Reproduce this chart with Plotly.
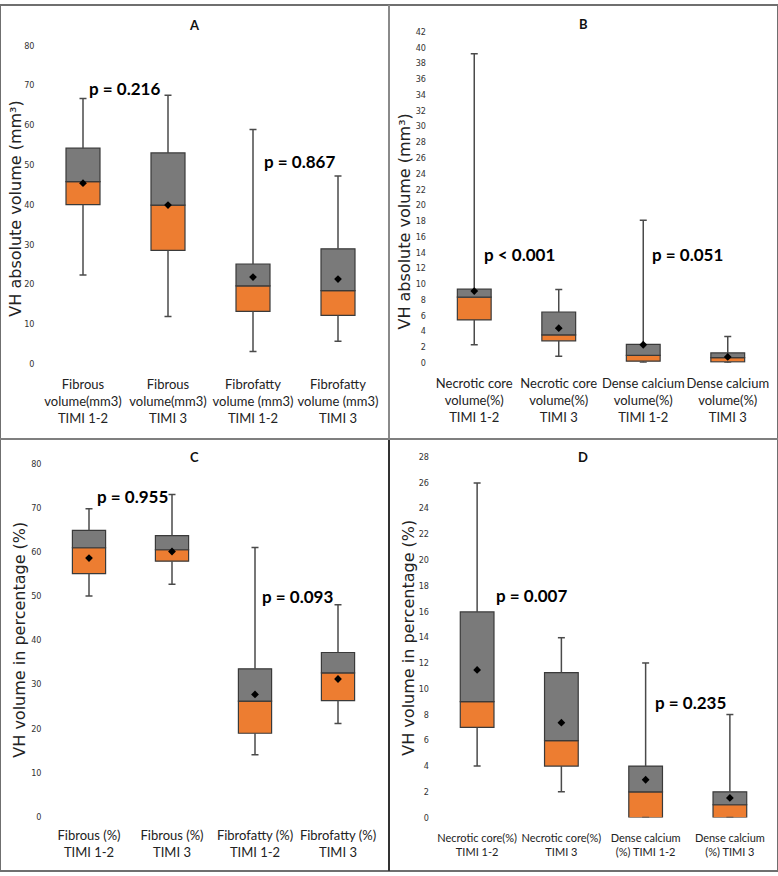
import plotly.graph_objects as go

W, H = 778, 876

# ---------------- data ----------------
# Panel A: VH absolute volume (mm3)
a_labels = ["Fibrous<br>volume(mm3)<br>TIMI 1-2", "Fibrous<br>volume(mm3)<br>TIMI 3",
            "Fibrofatty<br>volume (mm3)<br>TIMI 1-2", "Fibrofatty<br>volume (mm3)<br>TIMI 3"]
a_low = [22.3, 11.9, 3.1, 5.7]
a_q1 = [40.0, 28.5, 13.2, 12.2]
a_med = [45.8, 39.9, 19.6, 18.4]
a_q3 = [54.2, 53.0, 25.1, 28.9]
a_high = [66.7, 67.5, 58.9, 47.2]
a_mean = [45.4, 39.9, 21.8, 21.3]
a_p = ["p = 0.216", "p = 0.867"]

# Panel B: VH absolute volume (mm3)
b_labels = ["Necrotic core<br>volume(%)<br>TIMI 1-2", "Necrotic core<br>volume(%)<br>TIMI 3",
            "Dense calcium<br>volume(%)<br>TIMI 1-2", "Dense calcium<br>volume(%)<br>TIMI 3"]
b_low = [2.3, 0.84, 0.08, 0.0]
b_q1 = [5.44, 2.8, 0.21, 0.13]
b_med = [8.33, 3.56, 0.96, 0.67]
b_q3 = [9.34, 6.45, 2.35, 1.26]
b_high = [39.2, 9.3, 18.1, 3.35]
b_mean = [9.1, 4.4, 2.3, 0.75]
b_p = ["p < 0.001", "p = 0.051"]

# Panel C: VH volume in percentage (%)
c_labels = ["Fibrous (%)<br>TIMI 1-2", "Fibrous (%)<br>TIMI 3",
            "Fibrofatty (%)<br>TIMI 1-2", "Fibrofatty (%)<br>TIMI 3"]
c_low = [50.0, 52.7, 14.0, 21.1]
c_q1 = [55.1, 57.9, 18.9, 26.3]
c_med = [60.95, 60.5, 26.2, 32.6]
c_q3 = [64.9, 63.7, 33.5, 37.2]
c_high = [69.8, 73.0, 61.0, 48.0]
c_mean = [58.6, 60.1, 27.7, 31.2]
c_p = ["p = 0.955", "p = 0.093"]

# Panel D: VH volume in percentage (%)
d_labels = ["Necrotic core(%)<br>TIMI 1-2", "Necrotic core(%)<br>TIMI 3",
            "Dense calcium<br>(%) TIMI 1-2", "Dense calcium<br>(%) TIMI 3"]
d_low = [4.0, 2.0, 0.0, 0.0]
d_q1 = [7.0, 4.0, 0.0, 0.0]
d_med = [9.0, 5.98, 2.0, 1.0]
d_q3 = [15.96, 11.25, 4.0, 2.0]
d_high = [25.96, 13.96, 12.0, 8.0]
d_mean = [11.46, 7.37, 2.94, 1.53]
d_p = ["p = 0.007", "p = 0.235"]

ORANGE = "#ED7D31"
GRAY = "#7A7A7A"
EDGE = "#3A3A3A"
WHISK = "#4A4A4A"
LABELFONT = "Lato, Roboto, sans-serif"
TICKFONT = "Liberation Sans Narrow, DejaVu Sans Condensed, Roboto, sans-serif"

fig = go.Figure()


def add_panel(n, labels, low, q1, med, q3, high, mean):
    xa = "x" if n == 1 else f"x{n}"
    ya = "y" if n == 1 else f"y{n}"
    xs = list(range(len(labels)))
    # whiskers (outside of the box)
    wx, wy = [], []
    for i in xs:
        wx += [i, i, None, i, i, None]
        wy += [low[i], q1[i], None, q3[i], high[i], None]
    fig.add_trace(go.Scatter(x=wx, y=wy, mode="lines", line=dict(color=WHISK, width=1.5),
                             xaxis=xa, yaxis=ya, hoverinfo="skip", showlegend=False))
    # caps
    fig.add_trace(go.Scatter(x=xs + xs, y=low + high, mode="markers",
                             marker=dict(symbol="line-ew", size=5, line=dict(color=WHISK, width=1.5)),
                             xaxis=xa, yaxis=ya, hoverinfo="skip", showlegend=False))
    # box lower (Q1 -> median)
    fig.add_trace(go.Bar(x=xs, y=[m - q for m, q in zip(med, q1)], base=q1, width=0.4,
                         marker=dict(color=ORANGE, line=dict(color=EDGE, width=1.2)),
                         xaxis=xa, yaxis=ya, showlegend=False))
    # box upper (median -> Q3)
    fig.add_trace(go.Bar(x=xs, y=[t - m for t, m in zip(q3, med)], base=med, width=0.4,
                         marker=dict(color=GRAY, line=dict(color=EDGE, width=1.2)),
                         xaxis=xa, yaxis=ya, showlegend=False))
    # mean
    fig.add_trace(go.Scatter(x=xs, y=mean, mode="markers",
                             marker=dict(symbol="diamond", size=6, color="black"),
                             xaxis=xa, yaxis=ya, showlegend=False))


add_panel(1, a_labels, a_low, a_q1, a_med, a_q3, a_high, a_mean)
add_panel(2, b_labels, b_low, b_q1, b_med, b_q3, b_high, b_mean)
add_panel(3, c_labels, c_low, c_q1, c_med, c_q3, c_high, c_mean)
add_panel(4, d_labels, d_low, d_q1, d_med, d_q3, d_high, d_mean)


def px_x(p):
    return p / W


def px_y(p):
    return 1 - p / H


panels = {
    1: dict(xd=(40.5, 380.5), yd=(363, 41), yr=(0, 80), dt=10, labels=a_labels, ls=13, so=11),
    2: dict(xd=(432, 770), yd=(362, 27), yr=(0, 42), dt=2, labels=b_labels, ls=13, so=11),
    3: dict(xd=(47.5, 379.5), yd=(821, 464), yr=(0, 80), dt=10, labels=c_labels, ls=13, so=9),
    4: dict(xd=(435, 772), yd=(822, 457), yr=(0, 28), dt=2, labels=d_labels, ls=11, so=12),
}

layout = dict(
    width=W, height=H, margin=dict(l=0, r=0, t=0, b=0),
    paper_bgcolor="white", plot_bgcolor="white",
    barmode="overlay", showlegend=False,
)
for n, p in panels.items():
    xk = "xaxis" if n == 1 else f"xaxis{n}"
    yk = "yaxis" if n == 1 else f"yaxis{n}"
    layout[xk] = dict(domain=[px_x(p["xd"][0]), px_x(p["xd"][1])], range=[-0.5, 3.5],
                      anchor="y" if n == 1 else f"y{n}",
                      tickvals=[0, 1, 2, 3], ticktext=p["labels"], tickangle=0,
                      ticklabelstandoff=p["so"],
                      showgrid=False, zeroline=False, showline=False, ticks="",
                      tickfont=dict(family=LABELFONT, size=p["ls"], color="#222222"),
                      fixedrange=True)
    layout[yk] = dict(domain=[px_y(p["yd"][0]), px_y(p["yd"][1])], range=list(p["yr"]),
                      anchor="x" if n == 1 else f"x{n}",
                      dtick=p["dt"], tick0=0,
                      showgrid=False, zeroline=False, showline=False, ticks="",
                      ticklabelstandoff=5,
                      tickfont=dict(family=TICKFONT, size=9, color="#333333"),
                      fixedrange=True)

fig.update_layout(**layout)

# panel letters
for txt, x, y in [("A", 194, 20), ("B", 583, 19), ("C", 194, 457), ("D", 583, 457)]:
    fig.add_annotation(text=f"<b>{txt}</b>", x=px_x(x), y=px_y(y), xref="paper", yref="paper",
                       xanchor="center", yanchor="middle",
                       showarrow=False, font=dict(family=LABELFONT, size=13, color="#111111"))

# y-axis titles
for txt, x, y in [("VH absolute volume (mm³)", 16, 206), ("VH absolute volume (mm³)", 404, 219),
                  ("VH volume in percentage (%)", 20, 642), ("VH volume in percentage (%)", 409, 640)]:
    fig.add_annotation(text=txt, x=px_x(x), y=px_y(y), xref="paper", yref="paper", textangle=-90,
                       xanchor="center", yanchor="middle",
                       showarrow=False, font=dict(family="DejaVu Sans", size=16, color="#222222"))

# p-values
pv = [(a_p, "x", "y", [(0.49, 69.3), (2.55, 50.8)]),
      (b_p, "x2", "y2", [(0.53, 13.7), (2.52, 13.7)]),
      (c_p, "x3", "y3", [(0.52, 72.6), (2.51, 50.0)]),
      (d_p, "x4", "y4", [(0.64, 17.2), (2.53, 8.9)])]
for texts, xr, yr, pos in pv:
    for t, (x, y) in zip(texts, pos):
        fig.add_annotation(text=f"<b>{t}</b>", x=x, y=y, xref=xr, yref=yr, showarrow=False,
                           xanchor="center", yanchor="middle",
                           font=dict(family="Lato", size=17, color="black"))

# panel borders
shapes = [
    dict(type="rect", xref="paper", yref="paper", x0=0, x1=1, y0=0, y1=1,
         line=dict(color="#6F6F6F", width=2)),
    dict(type="line", xref="paper", yref="paper", x0=px_x(389), x1=px_x(389), y0=px_y(439), y1=1,
         line=dict(color="#8A8A8A", width=2)),
    dict(type="line", xref="paper", yref="paper", x0=px_x(389), x1=px_x(389), y0=0, y1=px_y(439),
         line=dict(color="#333333", width=2)),
    dict(type="line", xref="paper", yref="paper", x0=0, x1=1, y0=px_y(439), y1=px_y(439),
         line=dict(color="#7F7F7F", width=2)),
]
fig.update_layout(shapes=shapes)

fig.write_html("out.html", config={"displayModeBar": False},
               post_script="document.body.style.margin='0px';")
